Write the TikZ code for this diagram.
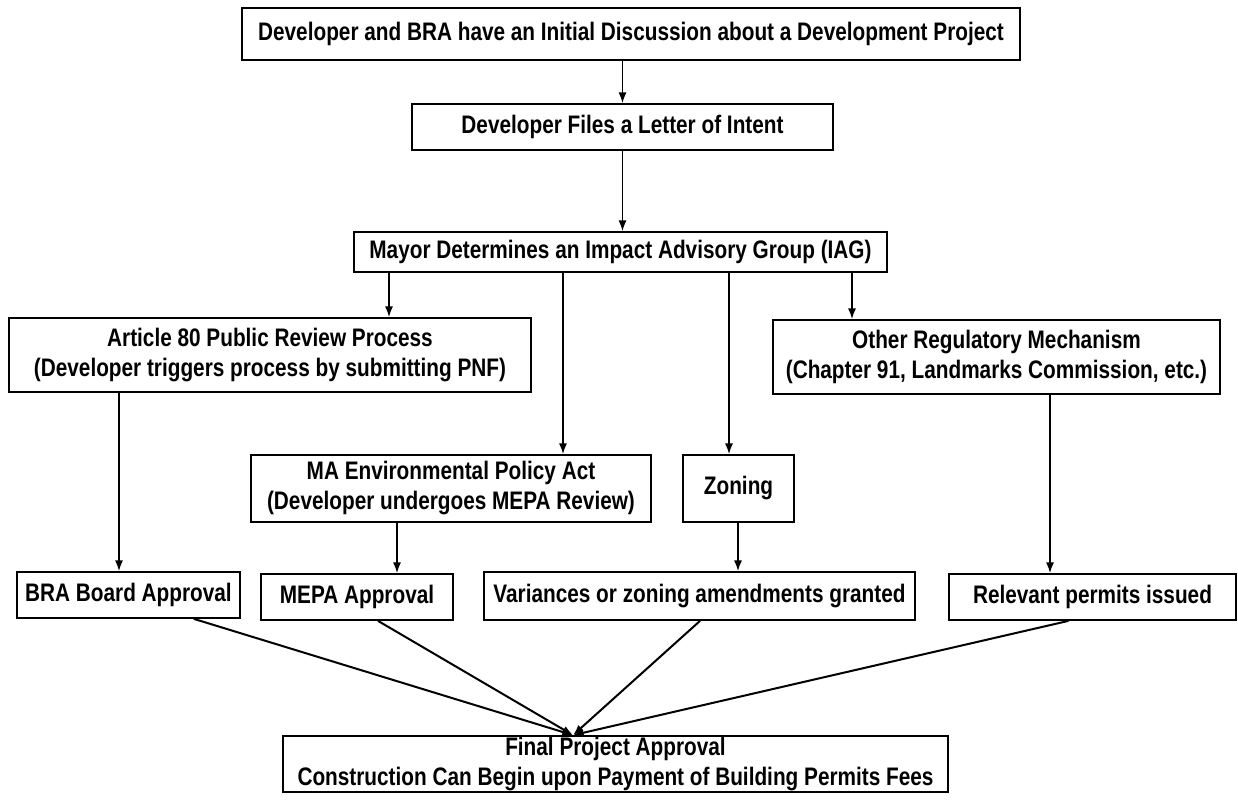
\documentclass[tikz,border=0pt]{standalone}
\usepackage{fontspec}
\setmainfont[FakeStretch=0.82]{Liberation Sans}
\usetikzlibrary{arrows.meta}
\begin{document}
\begin{tikzpicture}[x=0.75pt,y=-0.75pt,
  box/.style={draw, line width=1.3pt, inner sep=0pt, align=center,
    font=\bfseries\fontsize{19}{22.5}\selectfont},
  arr/.style={line width=1.2pt, -{Latex[length=8pt,width=6pt]}},
  cline/.style={line width=1.5pt, -{Latex[length=8pt,width=6pt]}}]
\useasboundingbox[fill=white] (0,0) rectangle (1238,802);

\node[box, minimum width=583.5pt, minimum height=39pt] (top) at (631,34)
  {Developer and BRA have an Initial Discussion about a Development Project};
\node[box, minimum width=315.75pt, minimum height=34.5pt] (letter) at (622.5,127)
  {Developer Files a Letter of Intent};
\node[box, minimum width=399.75pt, minimum height=30pt] (mayor) at (620.5,252)
  {Mayor Determines an Impact Advisory Group (IAG)};
\node[box, minimum width=391.5pt, minimum height=55.5pt] (article) at (270,355)
  {Article 80 Public Review Process\\(Developer triggers process by submitting PNF)};
\node[box, minimum width=335.25pt, minimum height=55.5pt] (other) at (996.5,357)
  {Other Regulatory Mechanism\\(Chapter 91, Landmarks Commission, etc.)};
\node[box, minimum width=300pt, minimum height=50.25pt] (mepa) at (451,488.5)
  {MA Environmental Policy Act\\(Developer undergoes MEPA Review)};
\node[box, minimum width=83.25pt, minimum height=50.25pt] (zoning) at (738.5,488.5)
  {Zoning};
\node[box, minimum width=167.25pt, minimum height=34.5pt] (bra) at (128.5,595)
  {BRA Board Approval};
\node[box, minimum width=144pt, minimum height=34.5pt] (mepaapp) at (357,597)
  {MEPA Approval};
\node[box, minimum width=323.25pt, minimum height=36pt] (var) at (699.5,596)
  {Variances or zoning amendments granted};
\node[box, minimum width=215.25pt, minimum height=34.5pt] (rel) at (1092.5,597)
  {Relevant permits issued};
\node[box, minimum width=498.75pt, minimum height=42pt] (final) at (615.5,764)
  {Final Project Approval\\Construction Can Begin upon Payment of Building Permits Fees};

% x positions of vertical connectors
\coordinate (xa) at (389,0);
\coordinate (xm) at (563,0);
\coordinate (xz) at (729,0);
\coordinate (xo) at (852,0);
\coordinate (xb) at (119,0);
\coordinate (xe) at (397,0);
\coordinate (xv) at (738,0);
\coordinate (xr) at (1050,0);
\coordinate (conv) at (final.north -| 573,0);

\draw[arr] (top.south -| letter.north) -- (letter.north);
\draw[arr] (letter.south) -- (letter.south |- mayor.north);
\draw[arr] (mayor.south -| xa) -- (article.north -| xa);
\draw[arr] (mayor.south -| xm) -- (mepa.north -| xm);
\draw[arr] (mayor.south -| xz) -- (zoning.north -| xz);
\draw[arr] (mayor.south -| xo) -- (other.north -| xo);
\draw[arr] (article.south -| xb) -- (bra.north -| xb);
\draw[arr] (mepa.south -| xe) -- (mepaapp.north -| xe);
\draw[arr] (zoning.south -| xv) -- (var.north -| xv);
\draw[arr] (other.south -| xr) -- (rel.north -| xr);

\draw[cline] ([xshift=49pt]bra.south) -- (conv);
\draw[cline] ([xshift=15.75pt]mepaapp.south) -- (conv);
\draw[cline] ([xshift=0.4pt]var.south) -- (conv);
\draw[cline] ([xshift=-18pt]rel.south) -- (conv);
\end{tikzpicture}
\end{document}
